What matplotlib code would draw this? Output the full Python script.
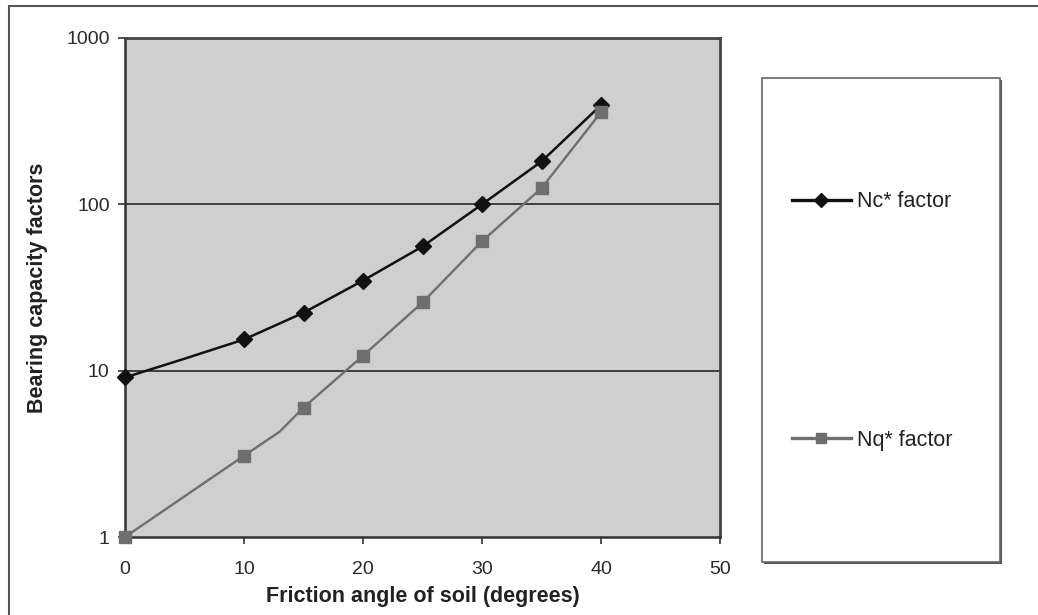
import numpy as np
import matplotlib.pyplot as plt
from matplotlib.patches import Rectangle

plt.rcParams['font.family'] = ['Liberation Sans', 'DejaVu Sans']

# friction angle (degrees)
# Nc* factor (5 deg is an unmarked point on the curve)
nc_angle = [0, 5, 10, 15, 20, 25, 30, 35, 40]
nc_vals = [9.1, 11.8, 15.4, 22.3, 34.8, 55.8, 100, 181, 395]
nc_marked = [0, 2, 3, 4, 5, 6, 7, 8]
# Nq* factor (13 deg is an unmarked point on the curve)
nq_angle = [0, 10, 13, 15, 20, 25, 30, 35, 40]
nq_vals = [1.0, 3.08, 4.3, 6.0, 12.3, 25.7, 60, 125, 358]
nq_marked = [0, 1, 3, 4, 5, 6, 7, 8]

xticks = [0, 10, 20, 30, 40, 50]
yticks = [1, 10, 100, 1000]

fig = plt.figure(figsize=(10.38, 6.15), dpi=100)
ax = fig.add_axes([125 / 1038, 1 - 537 / 615, 595 / 1038, 499 / 615])
ax.set_facecolor('#cfcfcf')

for yv in [10, 100]:
    ax.axhline(yv, color='#333333', lw=1.3, zorder=1)

nc_line, = ax.plot(nc_angle, nc_vals, color='#111111', lw=1.8, marker='D',
                   markersize=8, markevery=nc_marked, zorder=3,
                   clip_on=False, label='Nc* factor')
nq_line, = ax.plot(nq_angle, nq_vals, color='#6e6e6e', lw=1.7, marker='s',
                   markersize=8.5, markevery=nq_marked, zorder=4,
                   clip_on=False, label='Nq* factor')

ax.set_yscale('log')
ax.set_xlim(0, 50)
ax.set_ylim(1, 1000)
ax.set_xticks(xticks)
ax.set_xticklabels([str(v) for v in xticks])
ax.set_yticks(yticks)
ax.set_yticklabels([str(v) for v in yticks])
ax.yaxis.set_minor_locator(plt.NullLocator())
ax.tick_params(axis='both', labelsize=14, color='#333333', length=5,
               width=1.2, labelcolor='#2a2a2a')
ax.tick_params(axis='x', pad=12)
ax.tick_params(axis='y', pad=6)

for side in ['left', 'bottom']:
    ax.spines[side].set_color('#333333')
    ax.spines[side].set_linewidth(1.8)
for side in ['top', 'right']:
    ax.spines[side].set_color('#444444')
    ax.spines[side].set_linewidth(2)

ax.set_xlabel('Friction angle of soil (degrees)', fontsize=15.5,
              fontweight='bold', color='#222222', labelpad=6)
ax.set_ylabel('Bearing capacity factors', fontsize=15.5,
              fontweight='bold', color='#222222', labelpad=13)

# outer frame (cut off at right and bottom)
fig.add_artist(Rectangle((9 / 1038, -0.1), 1.1, 1 - 6 / 615 + 0.1,
                         transform=fig.transFigure, fill=False,
                         edgecolor='#555555', lw=1.5))

# legend box with shadow
bx0, bx1, by0, by1 = 762, 1000, 78, 562
fig.add_artist(Rectangle(((bx0 + 2) / 1038, 1 - (by1 + 2) / 615),
                         (bx1 - bx0) / 1038, (by1 - by0) / 615,
                         transform=fig.transFigure, facecolor='#555555',
                         edgecolor='none', zorder=1))
fig.add_artist(Rectangle((bx0 / 1038, 1 - by1 / 615),
                         (bx1 - bx0) / 1038, (by1 - by0) / 615,
                         transform=fig.transFigure, facecolor='white',
                         edgecolor='#666666', lw=1.2, zorder=2))

leg = fig.legend(handles=[nc_line, nq_line], loc='center left',
                 bbox_to_anchor=(773 / 1038, 1 - 321 / 615),
                 frameon=False, fontsize=15.5, labelspacing=10.1,
                 handlelength=2.7, handletextpad=0.3, markerscale=0.9)
for t in leg.get_texts():
    t.set_color('#222222')
for h in leg.legend_handles:
    h.set_linewidth(2.4)
leg.set_zorder(3)

fig.savefig('out.png', dpi=100)
